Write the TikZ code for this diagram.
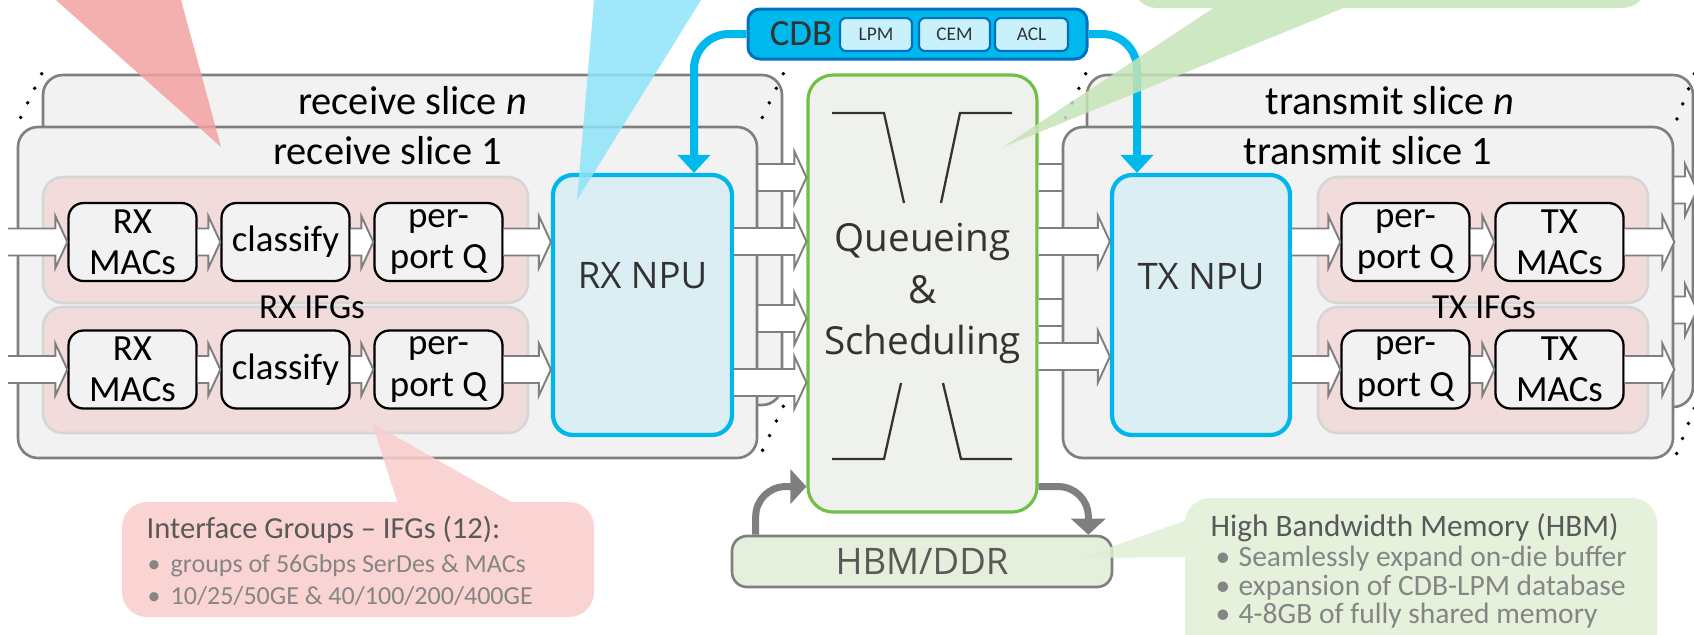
\documentclass[tikz,border=0pt]{standalone}
\usepackage{fontspec}
\setmainfont{Carlito}
\newfontfamily\segoefont{Open Sans}
\usepackage{xcolor}
\usepackage{tikz}
\usetikzlibrary{arrows.meta}
\usetikzlibrary{calc}

\definecolor{slicegray}{HTML}{7F7F7F}
\definecolor{slicefill}{HTML}{F2F2F2}
\definecolor{ifgfill}{HTML}{F2DCDB}
\definecolor{ifgline}{HTML}{D6D6D6}
\definecolor{npuline}{HTML}{00B6EA}
\definecolor{npufill}{HTML}{DAEEF3}
\definecolor{queueline}{HTML}{70BF46}
\definecolor{queuefill}{HTML}{EFF1EC}
\definecolor{cdbfill}{HTML}{00B9EC}
\definecolor{cdbline}{HTML}{0070C0}
\definecolor{cdbinner}{HTML}{C9F1FC}
\definecolor{hbmfill}{HTML}{E6EFDC}
\definecolor{textgray}{HTML}{333333}
\definecolor{notetitle}{HTML}{595959}
\definecolor{notetext}{HTML}{858585}
\definecolor{redcall}{HTML}{F2A2A0}
\definecolor{redbox}{HTML}{F9CDCB}
\definecolor{bluecall}{HTML}{8EE4FA}
\definecolor{greencall}{HTML}{C6E4B8}
\definecolor{greenbox}{HTML}{E0EED5}

\newcommand{\fatarrow}[3]{%
  \filldraw[bigarr] let \p1=(#1), \p2=(#2), \p3=(0,#3) in
    (\x1,\y3+0.135cm) -- (\x2-0.12cm,\y3+0.135cm) -- (\x2-0.12cm,\y3+0.26cm)
    -- (\x2,\y3) -- (\x2-0.12cm,\y3-0.26cm) -- (\x2-0.12cm,\y3-0.135cm)
    -- (\x1,\y3-0.135cm);}

\begin{document}
\begin{tikzpicture}[x=1cm, y=-1cm,
    slice/.style={draw=slicegray, fill=slicefill, line width=0.75pt, rounded corners=0.2cm, inner sep=0pt},
    slicetitle/.style={font=\fontsize{11.5}{13}\selectfont},
    ifg/.style={draw=ifgline, fill=ifgfill, line width=0.75pt, rounded corners=0.2cm, minimum height=1.26cm, inner sep=0pt},
    ifglabel/.style={font=\fontsize{10}{12}\selectfont},
    unit/.style={draw=black, fill=slicefill, line width=0.65pt, rounded corners=0.15cm, minimum width=1.28cm,
      minimum height=0.78cm, inner sep=0pt, align=center, font=\fontsize{10.5}{11.7}\selectfont},
    bigtext/.style={font=\segoefont\fontsize{10.4}{14.6}\selectfont, text=textgray, align=center},
    npu/.style={draw=npuline, fill=npufill, line width=1.2pt, rounded corners=0.2cm, minimum height=2.6cm, inner sep=0pt},
    queuebox/.style={draw=queueline, fill=queuefill, line width=0.9pt, rounded corners=0.25cm, inner sep=0pt,
      font=\segoefont\fontsize{11}{14.6}\selectfont, text=textgray, align=center},
    gate/.style={draw=textgray, line width=0.65pt},
    bigarr/.style={fill=white, draw=slicegray, line width=0.55pt},
    cdbbox/.style={draw=cdbline, fill=cdbfill, line width=0.85pt, rounded corners=0.12cm, inner sep=0pt},
    cdbpart/.style={draw=cdbline, fill=cdbinner, line width=0.6pt, rounded corners=0.06cm, inner sep=0pt,
      minimum height=0.33cm, font=\fontsize{5.5}{6}\selectfont, text=textgray},
    feed/.style={draw=cdbfill, line width=0.08cm, rounded corners=0.35cm, -{Triangle[width=0.32cm,length=0.18cm]}},
    memflow/.style={draw=slicegray, line width=0.07cm, rounded corners=0.3cm, -{Triangle[width=0.34cm,length=0.16cm]}},
    hbmbox/.style={draw=slicegray, fill=hbmfill, line width=0.75pt, rounded corners=0.15cm, inner sep=0pt,
      font=\segoefont\fontsize{10.4}{12}\selectfont, text=notetitle},
    dots/.style={line width=1.1pt, line cap=round, dash pattern=on 0pt off 4.6pt},
    callout/.style={fill opacity=0.85},
    notehead/.style={anchor=west, inner sep=0pt, font=\fontsize{8.7}{10}\selectfont, text=notetitle},
    noteitem/.style={anchor=west, inner sep=0pt, font=\fontsize{7.4}{9}\selectfont, text=notetext},
    memohead/.style={anchor=west, inner sep=0pt, font=\fontsize{8.9}{10}\selectfont, text=notetitle},
    memoitem/.style={anchor=west, inner sep=0pt, font=\fontsize{8.4}{9}\selectfont, text=notetext}]
    \useasboundingbox (0,0) rectangle (16.94,6.34);
    \clip (0,0) rectangle (16.94,6.34);

    \node[queuebox, minimum width=2.29cm, minimum height=4.37cm] (queue) at (9.225,2.935)
      {Queueing\\\&\\Scheduling};
    \draw[gate] (8.32,1.13) -- (8.84,1.13) -- (9.04,2.03);
    \draw[gate] (9.41,2.03) -- (9.60,1.13) -- (10.12,1.13);
    \draw[gate] (8.32,4.59) -- (8.84,4.59) -- (9.01,3.83);
    \draw[gate] (9.43,3.83) -- (9.61,4.59) -- (10.12,4.59);

    \node[slice, minimum width=7.39cm, minimum height=3.30cm] (rxn) at (4.125,2.40) {};
    \node[slicetitle] (rxntitle) at ($(rxn.north)+(0,0.27)$) {receive slice \textit{n}};
    \coordinate (rxnout) at (7.2,0);
    \fatarrow{rxnout}{queue.west}{1.775}
    \fatarrow{rxnout}{queue.west}{3.185}

    \node[slice, minimum width=7.39cm, minimum height=3.31cm] (rx1) at (3.875,2.925) {};
    \node[slicetitle] (rx1title) at ($(rx1.north)+(0,0.25)$) {receive slice 1};
    \node[ifg, minimum width=4.85cm] (rxifga) at (2.855,2.40) {};
    \node[ifg, minimum width=4.85cm] (rxifgb) at (2.855,3.70) {};
    \node[ifglabel] (rxifglabel) at (3.12,3.07) {RX IFGs};
    \node[unit] (rxmaca) at (1.325,2.42) {RX\\MACs};
    \node[unit] (rxclsa) at (2.855,2.42) {classify};
    \node[unit] (rxppqa) at (4.385,2.42) {per-\\port Q};
    \node[unit] (rxmacb) at (1.325,3.695) {RX\\MACs};
    \node[unit] (rxclsb) at (2.855,3.695) {classify};
    \node[unit] (rxppqb) at (4.385,3.695) {per-\\port Q};
    \node[npu, minimum width=1.79cm] (rxnpu) at (6.425,3.05) {};
    \node[bigtext] (rxnpulabel) at (6.425,2.76) {RX NPU};
    \coordinate (rxin) at (0.08,0);
    \fatarrow{rxin}{rxmaca.west}{2.42}
    \fatarrow{rxmaca.east}{rxclsa.west}{2.42}
    \fatarrow{rxclsa.east}{rxppqa.west}{2.42}
    \fatarrow{rxppqa.east}{rxnpu.west}{2.42}
    \fatarrow{rxin}{rxmacb.west}{3.695}
    \fatarrow{rxmacb.east}{rxclsb.west}{3.695}
    \fatarrow{rxclsb.east}{rxppqb.west}{3.695}
    \fatarrow{rxppqb.east}{rxnpu.west}{3.695}
    \fatarrow{rxnpu.east}{queue.west}{2.415}
    \fatarrow{rxnpu.east}{queue.west}{3.825}

    \node[slice, minimum width=6.06cm, minimum height=3.32cm] (txn) at (13.90,2.41) {};
    \node[slicetitle] (txntitle) at ($(txn.north)+(0,0.27)$) {transmit slice \textit{n}};
    \coordinate (txnin) at (11.0,0);
    \coordinate (txnout) at (16.4,0);
    \coordinate (txedge) at (16.97,0);
    \fatarrow{queue.east}{txnin}{1.775}
    \fatarrow{queue.east}{txnin}{3.125}
    \fatarrow{txnout}{txedge}{1.90}
    \fatarrow{txnout}{txedge}{3.10}

    \node[slice, minimum width=6.10cm, minimum height=3.31cm] (tx1) at (13.68,2.925) {};
    \node[slicetitle] (tx1title) at ($(tx1.north)+(0,0.25)$) {transmit slice 1};
    \node[ifg, minimum width=3.30cm] (txifga) at (14.83,2.40) {};
    \node[ifg, minimum width=3.30cm] (txifgb) at (14.83,3.70) {};
    \node[ifglabel] (txifglabel) at (14.84,3.07) {TX IFGs};
    \node[unit] (txppqa) at (14.055,2.42) {per-\\port Q};
    \node[unit] (txmaca) at (15.595,2.42) {TX\\MACs};
    \node[unit] (txppqb) at (14.055,3.695) {per-\\port Q};
    \node[unit] (txmacb) at (15.595,3.695) {TX\\MACs};
    \node[npu, minimum width=1.78cm] (txnpu) at (12.01,3.05) {};
    \node[bigtext] (txnpulabel) at (12.01,2.77) {TX NPU};
    \fatarrow{queue.east}{txnpu.west}{2.415}
    \fatarrow{queue.east}{txnpu.west}{3.565}
    \fatarrow{txnpu.east}{txppqa.west}{2.42}
    \fatarrow{txppqa.east}{txmaca.west}{2.42}
    \fatarrow{txmaca.east}{tx1.east}{2.42}
    \fatarrow{txnpu.east}{txppqb.west}{3.695}
    \fatarrow{txppqb.east}{txmacb.west}{3.695}
    \fatarrow{txmacb.east}{tx1.east}{3.695}

    \draw[dots] (rxn.north west) -- (rx1.north west);
    \draw[dots] (rxn.north east) -- (rx1.north east);
    \draw[dots] (rxn.south east) -- (rx1.south east);
    \draw[dots] (txn.north west) -- (tx1.north west);
    \draw[dots] (txn.north east) -- (tx1.north east);
    \draw[dots] (txn.south east) -- (tx1.south east);

    \node[cdbbox, minimum width=3.39cm, minimum height=0.50cm] (cdb) at (9.175,0.34) {};
    \node[font=\fontsize{10.5}{12}\selectfont, text=textgray] (cdblabel) at (8.01,0.34) {CDB};
    \node[cdbpart, minimum width=0.72cm] (lpm) at (8.76,0.345) {LPM};
    \node[cdbpart, minimum width=0.71cm] (cem) at (9.545,0.345) {CEM};
    \node[cdbpart, minimum width=0.73cm] (acl) at (10.315,0.345) {ACL};
    \draw[feed] (cdb.west) -| ($(rxnpu.north)+(0.515,0)$);
    \draw[feed] (cdb.east) -| ($(txnpu.north)+(-0.64,0)$);

    \node[hbmbox, minimum width=3.80cm, minimum height=0.51cm] (hbm) at (9.22,5.615) {HBM/DDR};
    \draw[memflow] ($(hbm.north west)+(0.25,0)$) |- ($(queue.south west)+(0,-0.27)$);
    \draw[memflow] ($(queue.south east)+(0,-0.27)$) -| ($(hbm.north east)+(-0.25,0)$);

    \fill[callout, redcall] (0.335,-0.2) -- (2.21,1.47) -- (1.756,-0.2) -- cycle;
    \fill[callout, bluecall] (5.957,-0.2) -- (5.77,2.00) -- (7.134,-0.2) -- cycle;
    \fill[callout, greencall, rounded corners=0.25cm] (11.32,-0.6) rectangle (16.47,0.08)
      [sharp corners] (12.15,0.07) -- (10.03,1.47) -- (13.46,0.07) -- cycle;
    \fill[callout, redbox, rounded corners=0.25cm] (1.22,5.02) rectangle (5.94,6.17)
      [sharp corners] (5.15,5.04) -- (3.72,4.23) -- (3.98,5.04) -- cycle;
    \fill[callout, greenbox, rounded corners=0.25cm] (11.85,4.98) rectangle (16.57,6.6)
      [sharp corners] (11.87,5.20) -- (10.80,5.58) -- (11.87,5.57) -- cycle;

    \node[notehead] (ifghead) at (1.46,5.30) {Interface Groups -- IFGs (12):};
    \node[noteitem] (ifgitema) at (1.47,5.66) {\makebox[0.23cm][l]{\textbullet}groups of 56Gbps SerDes \& MACs};
    \node[noteitem] (ifgitemb) at (1.47,5.96) {\makebox[0.23cm][l]{\textbullet}10/25/50GE \& 40/100/200/400GE};
    \node[memohead] (hbmhead) at (12.10,5.275) {High Bandwidth Memory (HBM)};
    \node[memoitem] (hbmitema) at (12.15,5.585) {\makebox[0.23cm][l]{\textbullet}Seamlessly expand on-die buffer};
    \node[memoitem] (hbmitemb) at (12.15,5.875) {\makebox[0.23cm][l]{\textbullet}expansion of CDB-LPM database};
    \node[memoitem] (hbmitemc) at (12.15,6.16) {\makebox[0.23cm][l]{\textbullet}4-8GB of fully shared memory};
\end{tikzpicture}
\end{document}
